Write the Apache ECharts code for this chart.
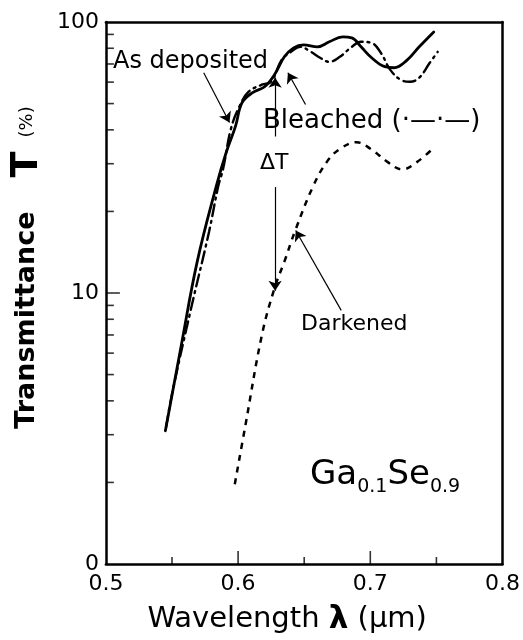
<!DOCTYPE html>
<html>
<head>
<meta charset="utf-8">
<script src="https://cdn.jsdelivr.net/npm/echarts@6/dist/echarts.min.js"></script>
<style>
  html, body { margin: 0; padding: 0; background: #fff; }
  #chart { width: 523px; height: 640px; }
</style>
</head>
<body>
<div id="chart"></div>
<script>
// wavelength (um), transmittance (%)
const asDeposited = [
  [0.545, 3.1], [0.557, 6.4], [0.569, 13.0], [0.5835, 24.8], [0.591, 33.0],
  [0.598, 41.2], [0.603, 50.4], [0.611, 54.9], [0.620, 57.7], [0.6275, 63.9],
  [0.635, 74.4], [0.642, 80.3], [0.6495, 82.3], [0.660, 81.0], [0.669, 84.5],
  [0.679, 88.1], [0.686, 87.4], [0.693, 81.0], [0.701, 73.8], [0.711, 68.4],
  [0.718, 67.8], [0.728, 72.5], [0.737, 81.0], [0.748, 91.9]
];
const bleached = [
  [0.5455, 3.2], [0.5505, 4.35], [0.5645, 8.8], [0.578, 16.8], [0.585, 24.8],
  [0.5886, 28.6], [0.5945, 40.2], [0.601, 48.8], [0.608, 55.3], [0.618, 58.7],
  [0.625, 60.2], [0.633, 72.5], [0.640, 77.6], [0.647, 81.0], [0.655, 77.6],
  [0.662, 73.8], [0.669, 71.3], [0.677, 74.4], [0.686, 81.0], [0.693, 84.5],
  [0.701, 83.7], [0.708, 76.9], [0.715, 66.7], [0.723, 61.2], [0.730, 60.2],
  [0.737, 62.3], [0.745, 70.7], [0.751, 77.6]
];
const darkened = [
  [0.5975, 1.97], [0.6055, 3.24], [0.618, 7.0], [0.6275, 10.4], [0.635, 13.05],
  [0.6436, 17.2], [0.6568, 24.8], [0.667, 30.4], [0.6766, 33.9], [0.6897, 36.0],
  [0.7007, 33.9], [0.7132, 30.4], [0.7242, 28.6], [0.7352, 30.4], [0.7484, 34.5]
];

// axis ticks
const yLabelValues = [1, 10, 100];
const xMajorTicks = [0.6, 0.7];
const xMinorTicks = [0.55, 0.65, 0.75];
const yMajorTicks = [10];
const yMinorTicks = [2, 3, 4, 5, 6, 7, 8, 9, 20, 30, 40, 50, 60, 70, 80, 90];

// annotation arrows [from, to] in data coords
const arrowAsDeposited = [[0.574, 65.0], [0.5935, 42.6]];
const arrowBleached = [[0.651, 49.6], [0.6377, 65.0]];
const arrowDeltaUp = [[0.628, 37.8], [0.628, 62.3]];
const arrowDeltaDown = [[0.628, 24.6], [0.628, 10.2]];
const arrowDarkened = [[0.678, 8.63], [0.6436, 17.0]];

const FONT = 'DejaVu Sans';
const X_MIN = 0.5, X_MAX = 0.8, Y_MIN = 1, Y_MAX = 100;

function arrow(pair) {
  return [{ coord: pair[0] }, { coord: pair[1] }];
}

// inward ticks drawn as thin rect symbols sitting on the axes
function xTick(v, len) {
  return { value: [v, Y_MIN], symbolSize: [1.6, len], symbolOffset: [0, -len / 2] };
}
function yTick(v, len) {
  return { value: [X_MIN, v], symbolSize: [len, 1.6], symbolOffset: [len / 2, 0] };
}
const tickData = []
  .concat(xMajorTicks.map(v => xTick(v, 13)))
  .concat(xMinorTicks.map(v => xTick(v, 7)))
  .concat(yMajorTicks.map(v => yTick(v, 14)))
  .concat(yMinorTicks.map(v => yTick(v, 8)));

const frameAxis = {
  axisLine: { show: true, lineStyle: { color: '#000', width: 2.5 } },
  axisTick: { show: false },
  axisLabel: { show: false },
  splitLine: { show: false }
};

var chartDom = document.getElementById('chart');
var myChart = echarts.init(chartDom, null, { renderer: 'canvas' });
var option;

option = {
  animation: false,
  grid: { left: 99, right: 15, top: 22, bottom: 73 },
  xAxis: [
    {
      type: 'value',
      min: X_MIN,
      max: X_MAX,
      interval: 0.1,
      name: 'Wavelength {l|λ} (μm)',
      nameLocation: 'middle',
      nameGap: 40,
      nameTextStyle: {
        fontFamily: FONT,
        fontSize: 29,
        color: '#000',
        padding: [0, 34, 0, 0],
        rich: {
          l: { fontFamily: FONT, fontSize: 31, fontWeight: 'bold', color: '#000' }
        }
      },
      axisLine: { show: true, lineStyle: { color: '#000', width: 2.5 } },
      axisTick: { show: false },
      axisLabel: {
        fontFamily: FONT,
        fontSize: 22,
        color: '#000',
        margin: 9,
        formatter: function (v) { return v.toFixed(1); }
      },
      splitLine: { show: false }
    },
    Object.assign({ type: 'value', min: X_MIN, max: X_MAX, position: 'top' }, frameAxis)
  ],
  yAxis: [
    {
      type: 'log',
      logBase: 10,
      min: Y_MIN,
      max: Y_MAX,
      name: '{b|Transmittance}{t|T}{p|(%)}',
      nameLocation: 'middle',
      nameRotate: 90,
      nameGap: 58,
      nameTextStyle: {
        padding: [0, 0, 0, 51],
        rich: {
          b: { fontFamily: FONT, fontSize: 27, fontWeight: 'bold', color: '#000' },
          t: { fontFamily: FONT, fontSize: 38, fontWeight: 'bold', color: '#000', padding: [0, 14, 0, 34] },
          p: { fontFamily: FONT, fontSize: 18, color: '#000' }
        }
      },
      axisLine: { show: true, lineStyle: { color: '#000', width: 2.5 } },
      axisTick: { show: false },
      axisLabel: {
        fontFamily: FONT,
        fontSize: 22,
        color: '#000',
        margin: 7,
        customValues: yLabelValues,
        formatter: function (v) { return v === 1 ? '0' : String(v); }
      },
      splitLine: { show: false }
    },
    Object.assign({ type: 'log', logBase: 10, min: Y_MIN, max: Y_MAX, position: 'right' }, frameAxis)
  ],
  series: [
    {
      name: 'As deposited',
      type: 'line',
      data: asDeposited,
      smooth: 0.4,
      showSymbol: false,
      lineStyle: { color: '#000', width: 2.8, cap: 'round' },
      markLine: {
        silent: true,
        symbol: ['none', 'arrow'],
        symbolSize: 10,
        label: { show: false },
        lineStyle: { color: '#000', width: 1.2, type: 'solid' },
        data: [
          arrow(arrowAsDeposited),
          arrow(arrowBleached),
          arrow(arrowDeltaUp),
          arrow(arrowDeltaDown),
          arrow(arrowDarkened)
        ]
      }
    },
    {
      name: 'Bleached',
      type: 'line',
      data: bleached,
      smooth: 0.4,
      showSymbol: false,
      lineStyle: { color: '#000', width: 2.4, type: [12, 5, 2, 5], cap: 'round' }
    },
    {
      name: 'Darkened',
      type: 'line',
      data: darkened,
      smooth: 0.4,
      showSymbol: false,
      lineStyle: { color: '#000', width: 2.5, type: [6, 6] }
    },
    {
      name: 'ticks',
      type: 'scatter',
      data: tickData,
      symbol: 'rect',
      clip: false,
      silent: true,
      z: 5,
      itemStyle: { color: '#000' }
    }
  ],
  graphic: [
    {
      type: 'text', left: 113, top: 50,
      style: { text: 'As deposited', fontFamily: FONT, fontSize: 24, fill: '#000' }
    },
    {
      type: 'text', left: 263, top: 108,
      style: { text: 'Bleached (·—·—)', fontFamily: FONT, fontSize: 26, fill: '#000' }
    },
    {
      type: 'text', left: 260, top: 152,
      style: { text: 'ΔT', fontFamily: FONT, fontSize: 22, fill: '#000', backgroundColor: '#fff' }
    },
    {
      type: 'text', left: 301, top: 313,
      style: { text: 'Darkened', fontFamily: FONT, fontSize: 22, fill: '#000' }
    },
    {
      type: 'text', left: 310, top: 458,
      style: {
        text: '{m|Ga}{s|0.1}{m|Se}{s|0.9}',
        rich: {
          m: { fontFamily: FONT, fontSize: 34, fill: '#000', lineHeight: 34, verticalAlign: 'top' },
          s: { fontFamily: FONT, fontSize: 19, fill: '#000', lineHeight: 19, verticalAlign: 'top', padding: [20, 0, 0, 0] }
        }
      }
    }
  ]
};

myChart.setOption(option);
</script>
</body>
</html>
